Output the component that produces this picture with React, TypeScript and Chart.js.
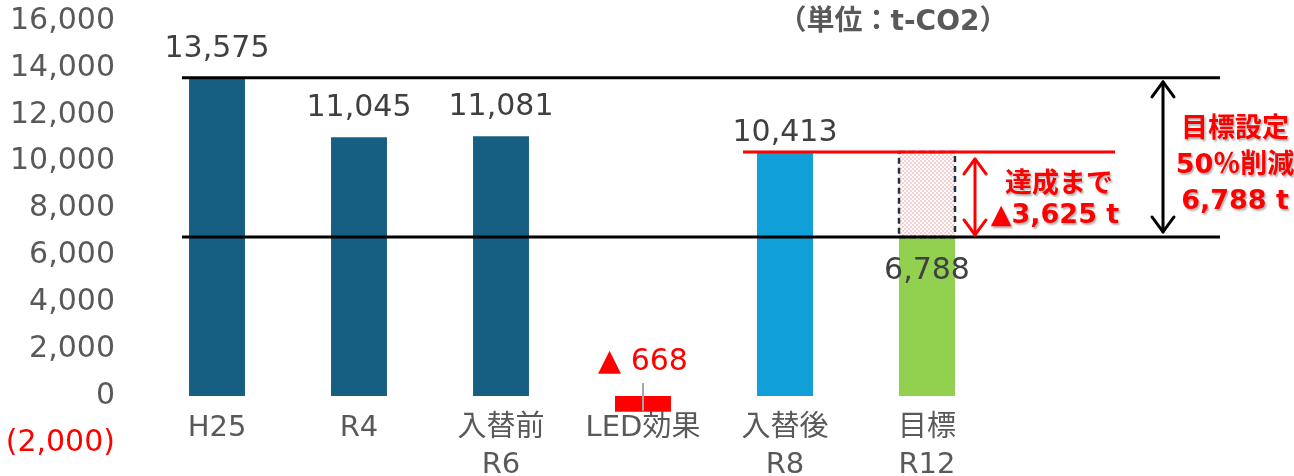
import { useEffect, useRef } from "react";
import { Chart, registerables } from "chart.js";

Chart.register(...registerables);

// ---- data ----
const categories: (string | string[])[] = ["H25", "R4", ["入替前", "R6"], "LED効果", ["入替後", "R8"], ["目標", "R12"], "", ""];
const values: (number | null)[] = [13575, 11045, 11081, -668, 10413, 6788, null, null];
const gapRange: ([number, number] | null)[] = [null, null, null, null, null, [6788, 10413], null, null];
const baseline = 13575;
const target = 6788;
const afterReplace = 10413;
const yMin = -2000;
const yMax = 16000;
const yStep = 2000;
const unitLabel = "（単位：t-CO2）";
const goalLines = ["目標設定", "50％削減", "6,788 t"];
const remainLines = ["達成まで", "▲3,625 t"];

// ---- styles ----
const barColors = ["#175F82", "#175F82", "#175F82", "#FF0000", "#10A0D7", "#92D050", "rgba(0,0,0,0)", "rgba(0,0,0,0)"];
const FONT = "'DejaVu Sans', 'Noto Sans CJK JP', sans-serif";

function makePattern(): CanvasPattern | string {
  const c = document.createElement("canvas");
  c.width = 4;
  c.height = 4;
  const g = c.getContext("2d");
  if (!g) return "#FADADA";
  g.fillStyle = "#FFFFFF";
  g.fillRect(0, 0, 4, 4);
  g.fillStyle = "#F9CFCF";
  g.fillRect(0, 0, 2, 2);
  g.fillRect(2, 2, 2, 2);
  const p = g.createPattern(c, "repeat");
  return p || "#FADADA";
}

function fmt(v: number) {
  return Math.abs(v).toLocaleString("en-US");
}

const overlay = {
  id: "overlay",
  afterDatasetsDraw(chart: any) {
    const { ctx } = chart;
    const x = chart.scales.x;
    const y = chart.scales.y;
    const px = (i: number) => x.getPixelForValue(i);
    const py = (v: number) => y.getPixelForValue(v);
    ctx.save();

    // dashed border of the gap box
    const hm = chart.getDatasetMeta(1).data[5];
    if (hm) {
      const p = hm.getProps(["x", "y", "base", "width"], true);
      ctx.setLineDash([6, 4]);
      ctx.strokeStyle = "#1E3445";
      ctx.lineWidth = 2.5;
      ctx.strokeRect(p.x - p.width / 2, Math.min(p.y, p.base), p.width, Math.abs(p.base - p.y));
      ctx.setLineDash([]);
    }

    const hline = (x0: number, x1: number, yy: number, color: string) => {
      ctx.beginPath();
      ctx.strokeStyle = color;
      ctx.lineWidth = 3;
      ctx.moveTo(x0, yy);
      ctx.lineTo(x1, yy);
      ctx.stroke();
    };
    const lx0 = px(0) - 35;
    const lx1 = px(7) + 9;
    hline(lx0, lx1, py(baseline), "#000000");
    hline(lx0, lx1, py(target), "#000000");
    hline(px(4) - 42, px(6) + 46, py(afterReplace), "#FF0000");

    const arrow = (ax: number, y0: number, y1: number, color: string) => {
      ctx.strokeStyle = color;
      ctx.lineWidth = 3;
      ctx.lineCap = "round";
      ctx.lineJoin = "round";
      ctx.beginPath();
      ctx.moveTo(ax, y0);
      ctx.lineTo(ax, y1);
      ctx.stroke();
      ctx.beginPath();
      ctx.moveTo(ax - 11, y0 + 15);
      ctx.lineTo(ax, y0);
      ctx.lineTo(ax + 11, y0 + 15);
      ctx.moveTo(ax - 11, y1 - 15);
      ctx.lineTo(ax, y1);
      ctx.lineTo(ax + 11, y1 - 15);
      ctx.stroke();
      ctx.lineCap = "butt";
    };
    arrow(px(5) + 48, py(afterReplace) + 7, py(target) - 2, "#FF0000");
    arrow(px(6) + 94, py(baseline) + 4, py(target) - 5, "#000000");

    // data labels
    ctx.textAlign = "center";
    ctx.textBaseline = "middle";
    ctx.font = `30px ${FONT}`;
    const meta = chart.getDatasetMeta(0);
    values.forEach((v, i) => {
      if (v === null) return;
      const el = meta.data[i];
      if (!el) return;
      const cx = el.x;
      if (v < 0) {
        ctx.fillStyle = "#FF0000";
        ctx.fillText("▲ " + fmt(v), cx, py(0) - 34);
        ctx.strokeStyle = "#A6A6A6";
        ctx.lineWidth = 2;
        ctx.beginPath();
        ctx.moveTo(cx, py(0) - 13);
        ctx.lineTo(cx, py(v) - 1);
        ctx.stroke();
        return;
      }
      ctx.fillStyle = "#404040";
      if (i === 5) {
        ctx.fillText(fmt(v), cx, py(v) + 34);
      } else if (i === 4) {
        ctx.fillText(fmt(v), cx, py(v) - 19);
      } else {
        ctx.fillText(fmt(v), cx, py(v) - 29);
      }
    });

    // unit
    ctx.fillStyle = "#595959";
    ctx.font = `bold 28px ${FONT}`;
    ctx.fillText(unitLabel, px(5) - 34, 23);

    // red annotations
    ctx.shadowColor = "rgba(0,0,0,0.3)";
    ctx.shadowOffsetX = 1.5;
    ctx.shadowOffsetY = 1.5;
    ctx.shadowBlur = 2;
    ctx.fillStyle = "#FF0000";
    ctx.font = `bold 27px ${FONT}`;
    ctx.fillText(remainLines[0], px(5) + 132, 185);
    ctx.fillText(remainLines[1], px(5) + 128, 216);
    goalLines.forEach((t, i) => {
      ctx.fillText(t, px(6) + 166, 130 + i * 36);
    });
    ctx.restore();
  },
};

export default function App() {
  const ref = useRef<HTMLCanvasElement | null>(null);
  useEffect(() => {
    if (!ref.current) return;
    const chart = new Chart(ref.current, {
      type: "bar",
      data: {
        labels: categories,
        datasets: [
          {
            data: values as any,
            backgroundColor: barColors,
            borderWidth: 0,
            grouped: false,
            barPercentage: 0.394,
            categoryPercentage: 1,
          } as any,
          {
            data: gapRange as any,
            backgroundColor: makePattern() as any,
            borderWidth: 0,
            grouped: false,
            barPercentage: 0.394,
            categoryPercentage: 1,
          } as any,
        ],
      },
      options: {
        responsive: false,
        animation: false,
        layout: { padding: { top: 21, bottom: 33, left: 0, right: 12 } },
        plugins: { legend: { display: false }, tooltip: { enabled: false } },
        scales: {
          x: {
            position: { y: 0 } as any,
            grid: { display: false, drawTicks: false },
            border: { display: false },
            afterFit: (s: any) => {
              s.paddingTop = 0;
              s.paddingBottom = 0;
              s.paddingLeft = 0;
              s.paddingRight = 0;
            },
            ticks: {
              color: "#595959",
              font: { size: 29, family: FONT, lineHeight: 1.27 },
              padding: 14,
              maxRotation: 0,
              autoSkip: false,
            },
          },
          y: {
            min: yMin,
            max: yMax,
            grid: { display: false, drawTicks: false },
            border: { display: false },
            afterFit: (s: any) => {
              s.width = 146;
              s.paddingTop = 0;
              s.paddingBottom = 0;
            },
            ticks: {
              stepSize: yStep,
              padding: 31,
              color: (c: any) => (c.tick && c.tick.value < 0 ? "#FF0000" : "#595959"),
              font: { size: 30, family: FONT },
              callback: (v: any) => (Number(v) < 0 ? `(${fmt(Number(v))})` : Number(v).toLocaleString("en-US")),
            },
          },
        },
      },
      plugins: [overlay],
    });
    return () => chart.destroy();
  }, []);
  return (
    <div style={{ position: "absolute", left: 0, top: 0, width: 1294, height: 476, background: "#FFFFFF" }}>
      <canvas ref={ref} width={1294} height={476} />
    </div>
  );
}
